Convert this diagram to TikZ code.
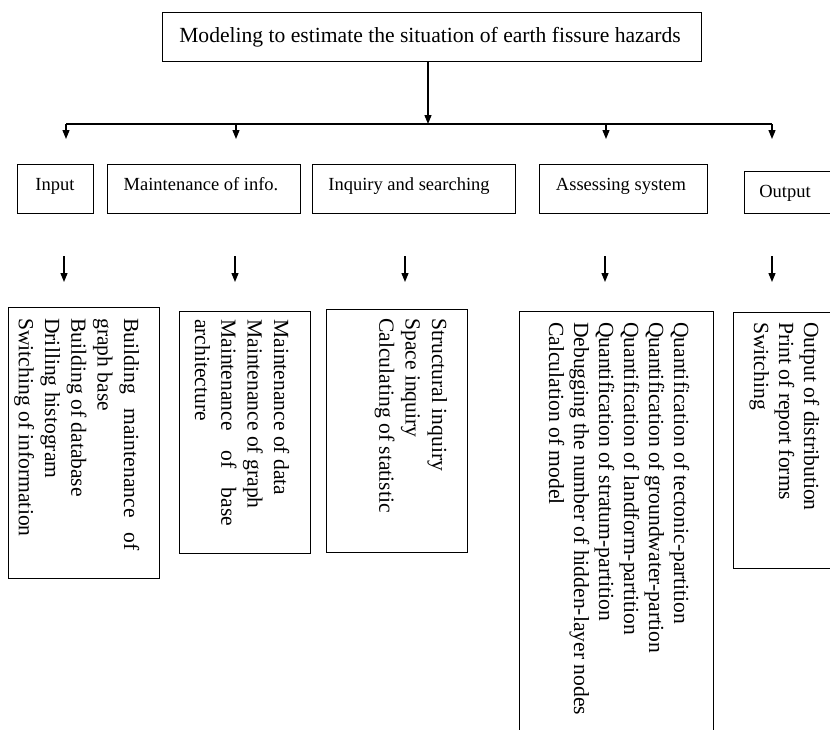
\documentclass[tikz,border=0pt]{standalone}
\usepackage{fontspec}
\setmainfont{Liberation Serif}
\usetikzlibrary{arrows.meta}
\newcommand\myBig{\fontsize{21.6}{25.5}\selectfont}
\newcommand\myBigA{\fontsize{21.6}{26.3}\selectfont}
\newcommand\myBigB{\fontsize{21.6}{25}\selectfont}
\newcommand\mySmall{\fontsize{18.5}{22}\selectfont}
\newcommand\myJust[1]{\leavevmode\hbox to \linewidth{#1}}
\tikzset{
  box/.style={draw, line width=1.3pt, inner sep=0pt, anchor=north west},
  vtext/.style={rotate=-90, anchor=base west, inner sep=0pt, align=flush left, font=\myBigA},
  htext/.style={anchor=base, inner sep=0pt, font=\mySmall},
  arr/.style={line width=1.3pt, -{Triangle[length=9pt,width=7pt]}},
  conn/.style={line width=1.3pt},
}
\begin{document}
\begin{tikzpicture}[x=1pt,y=1pt]
\useasboundingbox (0,0) rectangle (830,-729);
\clip (0,0) rectangle (830,-729);
\fill[white] (0,0) rectangle (830,-729);

% top box
\node[box, minimum width=539pt, minimum height=49pt] (top) at (162,-12) {};
\node[htext, font=\myBig] (toptxt) at (430,-42) {Modeling to estimate the situation of earth fissure hazards};

% level 2 boxes
\node[box, minimum width=76pt, minimum height=49pt] (input) at (17,-164) {};
\node[htext] (inputtxt) at (55,-190) {Input};
\node[box, minimum width=193pt, minimum height=49pt] (maint) at (107,-164) {};
\node[htext] (mainttxt) at (201,-190) {Maintenance of info.};
\node[box, minimum width=203pt, minimum height=49pt] (inq) at (312,-164) {};
\node[htext] (inqtxt) at (409,-190) {Inquiry and searching};
\node[box, minimum width=168pt, minimum height=49pt] (assess) at (539,-164) {};
\node[htext] (assesstxt) at (621,-190) {Assessing system};
\node[box, minimum width=120pt, minimum height=42pt] (output) at (744,-171) {};
\node[htext] (outputtxt) at (785,-197) {Output};

% level 3 boxes
\node[box, minimum width=151pt, minimum height=271pt] (b1) at (8,-307) {};
\node[box, minimum width=131pt, minimum height=242pt] (b2) at (179,-311) {};
\node[box, minimum width=141pt, minimum height=243pt] (b3) at (326,-309) {};
\node[box, minimum width=194pt, minimum height=450pt] (b4) at (519,-311) {};
\node[box, minimum width=150pt, minimum height=256pt] (b5) at (733,-312) {};

\node[vtext, text width=232pt] (t1) at (124,-318)
  {\myJust{Building\hfill maintenance\hfill of}\\graph base\\Building of database\\Drilling histogram\\Switching of information};
\node[vtext, text width=207pt] (t2) at (274,-319)
  {Maintenance of data\\Maintenance of graph\\\myJust{Maintenance\hfill of\hfill base}\\architecture};
\node[vtext, text width=200pt] (t3) at (432,-318)
  {Structural inquiry\\Space inquiry\\Calculating of statistic};
\node[vtext, font=\myBigB, text width=420pt] (t4) at (674,-322)
  {Quantification of tectonic-partition\\Quantification of groundwater-partion\\Quantification of landform-partition\\Quantification of stratum-partition\\Debugging the number of hidden-layer nodes\\Calculation of model};
\node[vtext, font=\myBigB, text width=220pt] (t5) at (804,-322)
  {Output of distribution\\Print of report forms\\Switching};

% connectors level 1 -> 2
\coordinate (hub) at (428,-124);
\coordinate (hl) at (66,-124);
\coordinate (hr) at (772,-124);
\coordinate (j2) at (236,-124);
\coordinate (j4) at (606,-124);
\coordinate (d1) at (66,-139);
\coordinate (d2) at (236,-139);
\coordinate (d4) at (606,-139);
\coordinate (d5) at (772,-139);
\draw[arr] (top.south -| hub) -- (hub);
\draw[conn] (hl) -- (hr);
\draw[arr] (hl) -- (d1);
\draw[arr] (j2) -- (d2);
\draw[arr] (j4) -- (d4);
\draw[arr] (hr) -- (d5);

% connectors level 2 -> 3
\coordinate (s1) at (64,-256);  \coordinate (e1) at (64,-282);
\coordinate (s2) at (235,-256); \coordinate (e2) at (235,-282);
\coordinate (s3) at (405,-256); \coordinate (e3) at (405,-282);
\coordinate (s4) at (605,-256); \coordinate (e4) at (605,-282);
\coordinate (s5) at (772,-256); \coordinate (e5) at (772,-282);
\draw[arr] (s1) -- (e1);
\draw[arr] (s2) -- (e2);
\draw[arr] (s3) -- (e3);
\draw[arr] (s4) -- (e4);
\draw[arr] (s5) -- (e5);
\end{tikzpicture}
\end{document}
